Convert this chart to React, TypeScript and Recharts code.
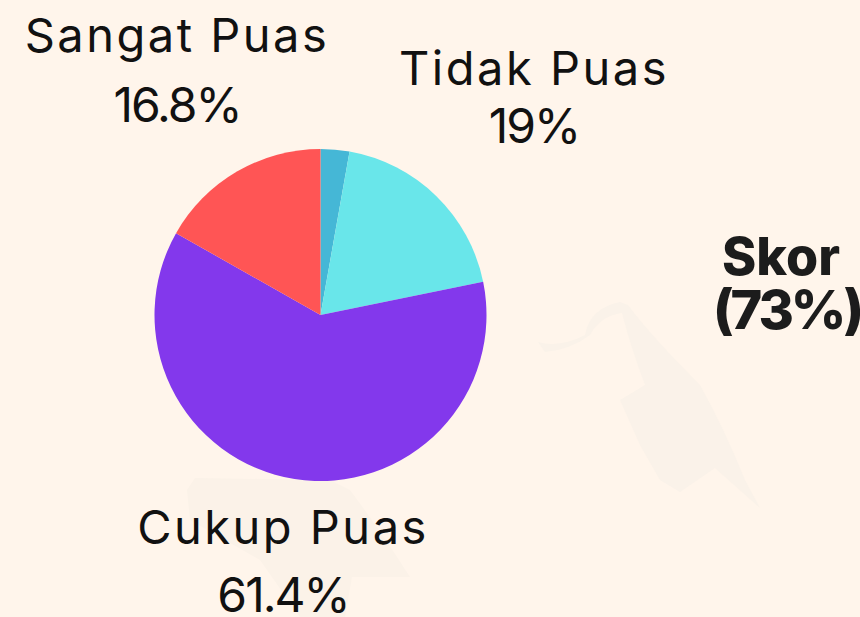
import React from "react";
import { PieChart, Pie, Cell } from "recharts";

const categories = ["Sangat Tidak Puas", "Tidak Puas", "Cukup Puas", "Sangat Puas"];
const values = [2.8, 19, 61.4, 16.8];
const valueLabels = ["", "19%", "61.4%", "16.8%"];
const colors = ["#45B7D6", "#69E6EA", "#8338EC", "#FF5555"];
const labelAnchors = [null, { x: 534, y: 85, dy: 58 }, { x: 283, y: 544, dy: 68 }, { x: 177, y: 52, dy: 70 }];
const rows = categories.map((name, i) => ({ name, value: values[i] }));

const FONT = "Inter, 'Noto Sans', sans-serif";

const renderLabel = (p: any) => {
  const a = labelAnchors[p.index];
  if (!a) return null;
  return (
    <g>
      <text x={a.x} y={a.y} textAnchor="middle" fontFamily={FONT} fontSize={47} letterSpacing={2.5} fill="#111" stroke="none">
        {categories[p.index]}
      </text>
      <text x={a.x} y={a.y + a.dy} textAnchor="middle" fontFamily={FONT} fontSize={48} letterSpacing={-2} fill="#111" stroke="none">
        {valueLabels[p.index]}
      </text>
    </g>
  );
};

export default function App() {
  return (
    <div style={{ position: "fixed", left: 0, top: 0, width: 860, height: 617, background: "#FFF5EB", overflow: "hidden" }}>
      <svg width={860} height={617} style={{ position: "absolute", left: 0, top: 0 }}>
        <path d="M538 342 Q560 348 585 335 Q590 308 620 302 L628 305 Q650 335 700 385 Q725 430 745 480 L760 508 L715 468 L680 492 L660 480 L640 445 L620 400 L645 385 Q630 345 622 313 Q600 316 590 335 Q570 350 545 352 Z" fill="#FAF2E9" />
        <path d="M187 490 L195 478 L330 480 L350 490 Q380 530 410 577 L352 577 L345 617 L300 617 L260 560 L190 520 Z" fill="#FBF2E8" />
      </svg>
      <div style={{ position: "absolute", left: 0, top: 0 }}>
        <PieChart width={860} height={617} margin={{ top: 0, right: 0, bottom: 0, left: 0 }}>
          <Pie
            data={rows}
            dataKey="value"
            nameKey="name"
            cx={320.5}
            cy={315}
            outerRadius={166}
            startAngle={90}
            endAngle={-270}
            stroke="none"
            label={renderLabel}
            labelLine={false}
            isAnimationActive={false}
          >
            {rows.map((r, i) => (
              <Cell key={r.name} fill={colors[i]} />
            ))}
          </Pie>
        </PieChart>
      </div>
      <div style={{ position: "absolute", left: 687, width: 200, top: 230, textAlign: "center", fontFamily: FONT, fontWeight: 800, fontSize: 52, lineHeight: "53px", color: "#1C1C1C" }}>
        <span style={{ position: "relative", left: -6 }}>Skor</span>
        <br />
        <span style={{ letterSpacing: -3, fontSize: 54 }}>(73%)</span>
      </div>
    </div>
  );
}
